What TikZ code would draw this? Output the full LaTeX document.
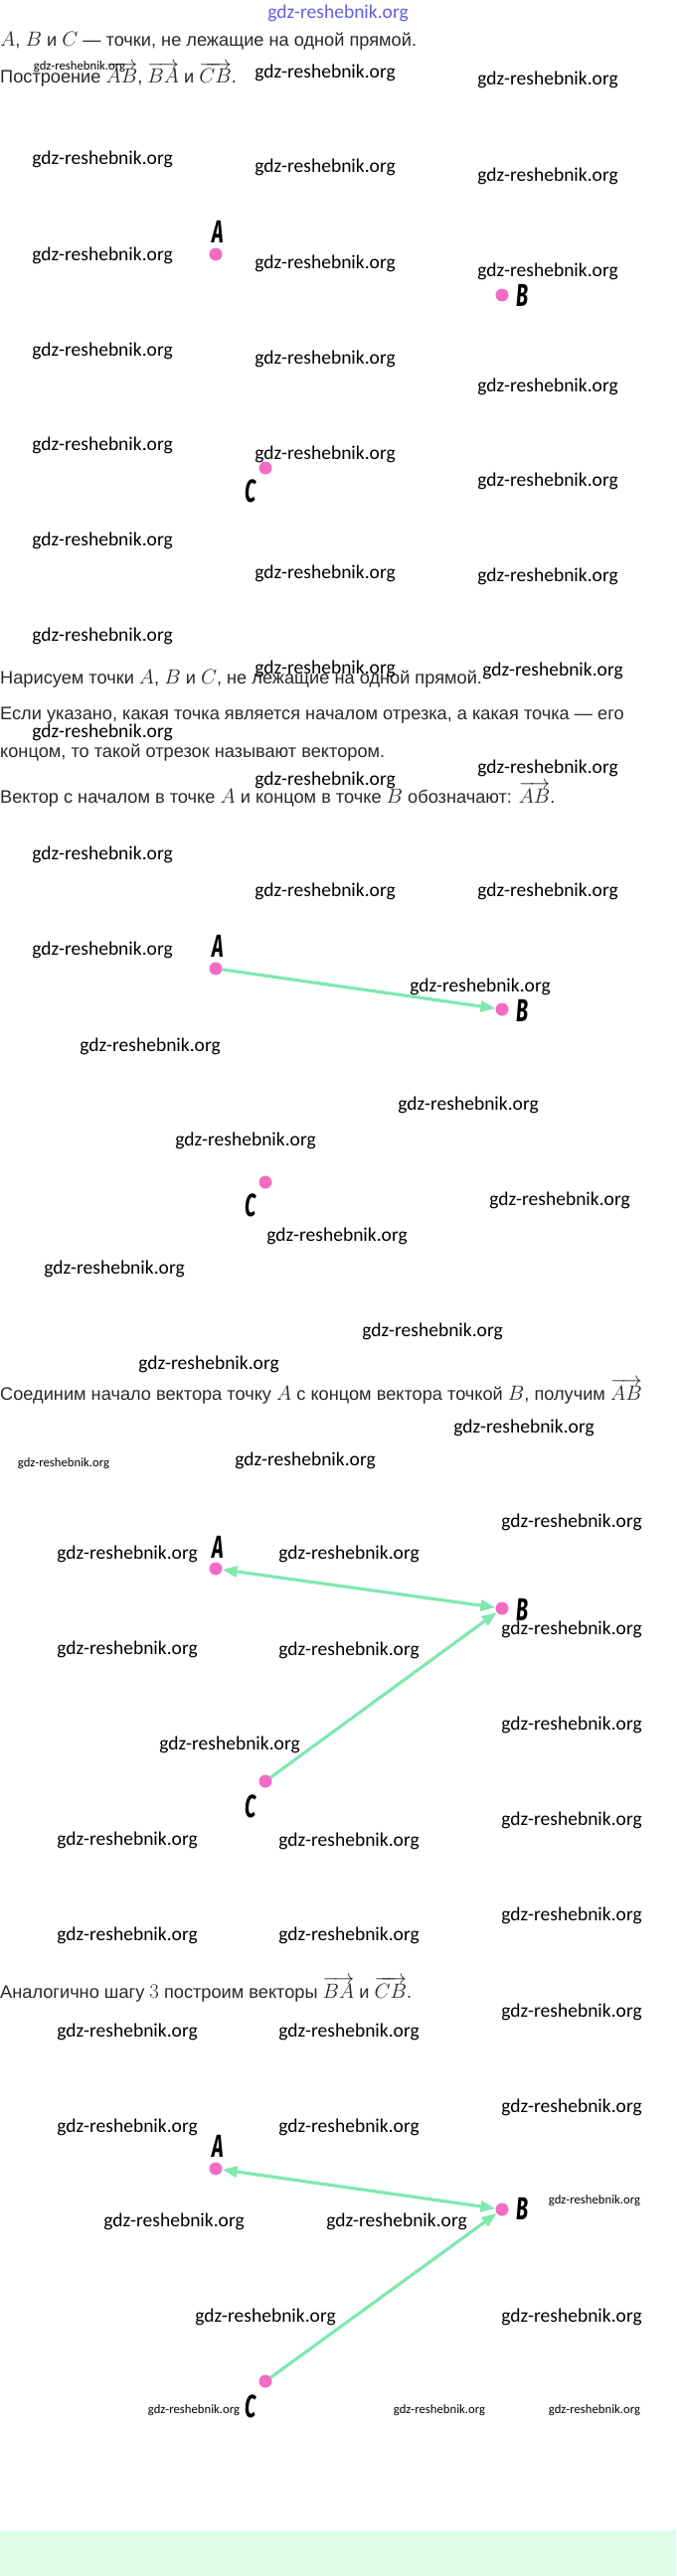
\documentclass[tikz,border=0pt]{standalone}
\usepackage{fontspec}
\setmainfont{Liberation Sans}
\newfontfamily\wmfont{Carlito}
\newfontfamily\lblfont{Fira Sans}
\usetikzlibrary{arrows.meta}
\definecolor{dotpink}{RGB}{242,108,196}
\definecolor{vecgreen}{RGB}{128,232,176}
\definecolor{bandgreen}{RGB}{222,252,232}
\definecolor{wmblue}{RGB}{96,96,224}
\definecolor{txtgray}{RGB}{40,40,40}
\newcommand\mth[1]{{\fontsize{21.5}{22}\selectfont$#1$}}
\tikzset{
  wm/.style={font=\wmfont\fontsize{19.5}{20}\selectfont, inner sep=0, text=black},
  wms/.style={font=\wmfont\fontsize{12.7}{13}\selectfont, inner sep=0, text=black},
  txt/.style={anchor=base west, inner sep=0, text=txtgray, font=\fontsize{18.2}{21}\selectfont},
  pt/.style={circle, fill=dotpink, minimum size=13pt, inner sep=0},
  lbl/.style={font=\lblfont\bfseries\itshape\fontsize{32}{32}\selectfont, inner sep=0, xscale=0.62},
  vec/.style={draw=vecgreen, line width=3.2pt, -{Triangle[length=15pt,width=11pt]}},
  bivec/.style={draw=vecgreen, line width=3.2pt, {Triangle[length=15pt,width=11pt]}-{Triangle[length=15pt,width=11pt]}}
}
\begin{document}
\begin{tikzpicture}[x=1pt,y=-1pt]
\useasboundingbox (0,0) rectangle (680,2593);
\fill[bandgreen] (0,2547) rectangle (680,2593);

% ---------- section 1 ----------
\node[wm, text=wmblue] (w0) at (340,13) {gdz-reshebnik.org};
\node[txt] (t1) at (0,47) {\mth{A}, \mth{B} и \mth{C} — точки, не лежащие на одной прямой.};
\node[txt] (t2) at (0,84) {Построение \mth{\overrightarrow{AB}}, \mth{\overrightarrow{BA}} и \mth{\overrightarrow{CB}}.};
\node[wms] (w1) at (80,67) {gdz-reshebnik.org};
\node[wm] (w2) at (327,73) {gdz-reshebnik.org};
\node[wm] (w3) at (551,80) {gdz-reshebnik.org};
\node[wm] (w4) at (103,160) {gdz-reshebnik.org};
\node[wm] (w5) at (327,168) {gdz-reshebnik.org};
\node[wm] (w6) at (551,177) {gdz-reshebnik.org};
\node[wm] (w7) at (103,257) {gdz-reshebnik.org};
\node[wm] (w8) at (327,265) {gdz-reshebnik.org};
\node[wm] (w9) at (551,273) {gdz-reshebnik.org};
\node[wm] (w10) at (103,353) {gdz-reshebnik.org};
\node[wm] (w11) at (327,361) {gdz-reshebnik.org};
\node[wm] (w12) at (551,389) {gdz-reshebnik.org};
\node[wm] (w13) at (103,448) {gdz-reshebnik.org};
\node[wm] (w14) at (327,457) {gdz-reshebnik.org};
\node[wm] (w15) at (551,484) {gdz-reshebnik.org};
\node[wm] (w16) at (103,544) {gdz-reshebnik.org};
\node[wm] (w17) at (327,577) {gdz-reshebnik.org};
\node[wm] (w18) at (551,580) {gdz-reshebnik.org};
\node[wm] (w19) at (103,640) {gdz-reshebnik.org};

\node[pt] (A1) at (217,256) {};
\node[pt] (B1) at (505,297) {};
\node[pt] (C1) at (267,471) {};
\node[lbl] (lA1) at (219,233) {A};
\node[lbl] (lB1) at (526,297) {B};
\node[lbl] (lC1) at (252,494) {C};

% ---------- section 2 ----------
\node[txt] (t3) at (0,688) {Нарисуем точки \mth{A}, \mth{B} и \mth{C}, не лежащие на одной прямой.};
\node[txt] (t4) at (0,724) {Если указано, какая точка является началом отрезка, а какая точка — его};
\node[txt] (t5) at (0,762) {концом, то такой отрезок называют вектором.};
\node[txt] (t6) at (0,808) {Вектор с началом в точке \mth{A} и концом в точке \mth{B} обозначают: \mth{\overrightarrow{AB}}.};
\node[wm] (w20) at (327,673) {gdz-reshebnik.org};
\node[wm] (w21) at (556,675) {gdz-reshebnik.org};
\node[wm] (w22) at (103,737) {gdz-reshebnik.org};
\node[wm] (w23) at (551,773) {gdz-reshebnik.org};
\node[wm] (w24) at (327,785) {gdz-reshebnik.org};
\node[wm] (w25) at (103,860) {gdz-reshebnik.org};
\node[wm] (w26) at (327,897) {gdz-reshebnik.org};
\node[wm] (w27) at (551,897) {gdz-reshebnik.org};
\node[wm] (w28) at (103,956) {gdz-reshebnik.org};
\node[wm] (w29) at (483,993) {gdz-reshebnik.org};
\node[wm] (w30) at (151,1053) {gdz-reshebnik.org};
\node[wm] (w31) at (471,1112) {gdz-reshebnik.org};
\node[wm] (w32) at (247,1148) {gdz-reshebnik.org};
\node[wm] (w33) at (563,1208) {gdz-reshebnik.org};
\node[wm] (w34) at (339,1244) {gdz-reshebnik.org};
\node[wm] (w35) at (115,1277) {gdz-reshebnik.org};
\node[wm] (w36) at (435,1340) {gdz-reshebnik.org};

\node[pt] (A2) at (217,975) {};
\node[pt] (B2) at (505,1016) {};
\node[pt] (C2) at (267,1190) {};
\node[lbl] (lA2) at (219,952) {A};
\node[lbl] (lB2) at (526,1017) {B};
\node[lbl] (lC2) at (252,1213) {C};
\draw[vec] (A2) -- (B2);

% ---------- section 3 ----------
\node[wm] (w37) at (210,1373) {gdz-reshebnik.org};
\node[txt] (t7) at (0,1409) {Соединим начало вектора точку \mth{A} с концом вектора точкой \mth{B}, получим \mth{\overrightarrow{AB}}};
\node[wm] (w38) at (527,1437) {gdz-reshebnik.org};
\node[wms] (w39) at (64,1473) {gdz-reshebnik.org};
\node[wm] (w40) at (307,1470) {gdz-reshebnik.org};
\node[wm] (w41) at (575,1532) {gdz-reshebnik.org};
\node[wm] (w42) at (128,1564) {gdz-reshebnik.org};
\node[wm] (w43) at (351,1564) {gdz-reshebnik.org};
\node[wm] (w44) at (575,1640) {gdz-reshebnik.org};
\node[wm] (w45) at (128,1660) {gdz-reshebnik.org};
\node[wm] (w46) at (351,1661) {gdz-reshebnik.org};
\node[wm] (w47) at (575,1736) {gdz-reshebnik.org};
\node[wm] (w48) at (231,1756) {gdz-reshebnik.org};
\node[wm] (w49) at (575,1832) {gdz-reshebnik.org};
\node[wm] (w50) at (128,1852) {gdz-reshebnik.org};
\node[wm] (w51) at (351,1853) {gdz-reshebnik.org};
\node[wm] (w52) at (575,1928) {gdz-reshebnik.org};
\node[wm] (w53) at (128,1948) {gdz-reshebnik.org};
\node[wm] (w54) at (351,1948) {gdz-reshebnik.org};

\node[pt] (A3) at (217,1579) {};
\node[pt] (B3) at (505,1619) {};
\node[pt] (C3) at (267,1793) {};
\node[lbl] (lA3) at (219,1557) {A};
\node[lbl] (lB3) at (526,1620) {B};
\node[lbl] (lC3) at (252,1818) {C};
\draw[bivec] (A3) -- (B3);
\draw[vec] (C3) -- (B3);

% ---------- section 4 ----------
\node[txt] (t8) at (0,2011) {Аналогично шагу \mth{3} построим векторы \mth{\overrightarrow{BA}} и \mth{\overrightarrow{CB}}.};
\node[wm] (w55) at (575,2025) {gdz-reshebnik.org};
\node[wm] (w56) at (128,2045) {gdz-reshebnik.org};
\node[wm] (w57) at (351,2045) {gdz-reshebnik.org};
\node[wm] (w58) at (575,2121) {gdz-reshebnik.org};
\node[wm] (w59) at (128,2141) {gdz-reshebnik.org};
\node[wm] (w60) at (351,2141) {gdz-reshebnik.org};
\node[wms] (w61) at (598,2215) {gdz-reshebnik.org};
\node[wm] (w62) at (175,2236) {gdz-reshebnik.org};
\node[wm] (w63) at (399,2236) {gdz-reshebnik.org};
\node[wm] (w64) at (267,2332) {gdz-reshebnik.org};
\node[wm] (w65) at (575,2332) {gdz-reshebnik.org};
\node[wms] (w66) at (195,2426) {gdz-reshebnik.org};
\node[wms] (w67) at (442,2426) {gdz-reshebnik.org};
\node[wms] (w68) at (598,2426) {gdz-reshebnik.org};

\node[pt] (A4) at (217,2183) {};
\node[pt] (B4) at (505,2224) {};
\node[pt] (C4) at (267,2397) {};
\node[lbl] (lA4) at (219,2160) {A};
\node[lbl] (lB4) at (526,2223) {B};
\node[lbl] (lC4) at (252,2422) {C};
\draw[bivec] (A4) -- (B4);
\draw[vec] (C4) -- (B4);
\end{tikzpicture}
\end{document}
